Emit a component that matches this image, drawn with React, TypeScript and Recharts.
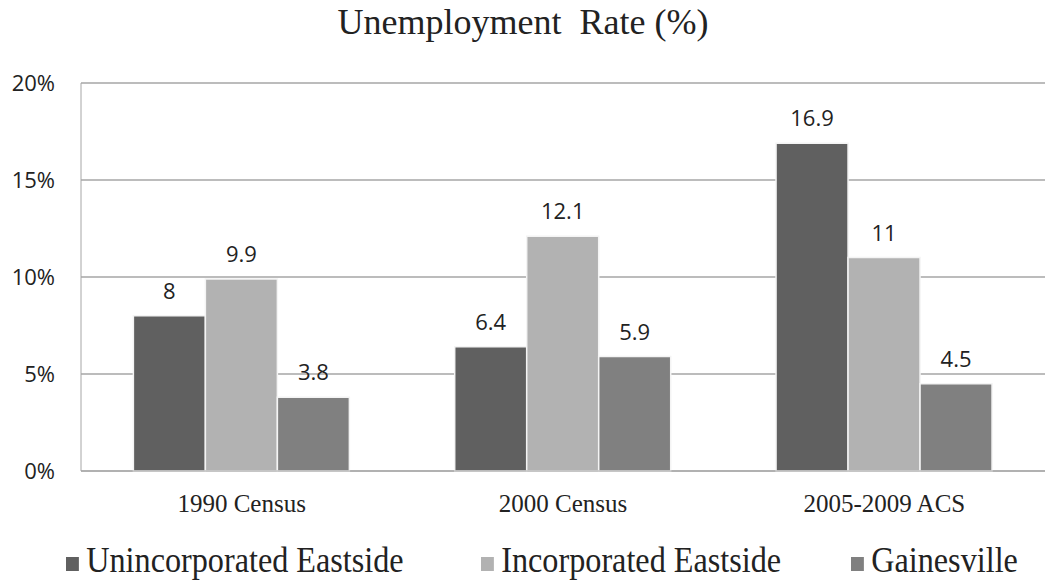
import { Bar, BarChart, CartesianGrid, LabelList, XAxis, YAxis } from 'recharts';

const categories = ['1990 Census', '2000 Census', '2005-2009 ACS'];
const unincorporated = [8, 6.4, 16.9];
const incorporated = [9.9, 12.1, 11];
const gainesville = [3.8, 5.9, 4.5];
const yTicks = [0, 5, 10, 15, 20];

const series = [
  { key: 'unincorporated', name: 'Unincorporated Eastside', color: '#606060' },
  { key: 'incorporated', name: 'Incorporated Eastside', color: '#b2b2b2' },
  { key: 'gainesville', name: 'Gainesville', color: '#808080' },
];

const data = categories.map((c, i) => ({
  category: c,
  unincorporated: unincorporated[i],
  incorporated: incorporated[i],
  gainesville: gainesville[i],
}));

const serif = '"Liberation Serif", "Times New Roman", serif';
const sans = '"Open Sans", "Noto Sans", sans-serif';
const legendLeft = [66, 481, 851];

export default function App() {
  return (
    <div style={{ position: 'relative', width: 1046, height: 584, background: '#fff' }}>
      <style>{`body{margin:0}`}</style>
      <div
        style={{
          position: 'absolute',
          top: 1,
          left: 0,
          width: 1046,
          textAlign: 'center',
          fontFamily: serif,
          fontSize: 36,
          color: '#222',
          whiteSpace: 'pre',
          lineHeight: 'normal',
        }}
      >
        {'Unemployment  Rate (%)'}
      </div>
      <BarChart
        width={1046}
        height={584}
        data={data}
        margin={{ top: 83, right: 1, bottom: 83, left: 0 }}
        barCategoryGap="16.3%"
        barGap={0}
      >
        <CartesianGrid vertical={false} stroke="#a6a6a6" strokeWidth={1.3} />
        <XAxis
          dataKey="category"
          stroke="#a6a6a6"
          tickLine={false}
          tickSize={0}
          tickMargin={23}
          tick={{ fill: '#222', fontFamily: serif, fontSize: 25 }}
        />
        <YAxis
          width={81}
          domain={[0, 20]}
          ticks={yTicks}
          tickFormatter={(v) => `${v}%`}
          stroke="#a6a6a6"
          tickLine={false}
          tickSize={0}
          tickMargin={26}
          tick={{ fill: '#222', fontFamily: sans, fontSize: 22 }}
        />
        {series.map((s) => (
          <Bar
            key={s.key}
            dataKey={s.key}
            name={s.name}
            fill={s.color}
            stroke="#f4f4f4"
            strokeWidth={1.5}
            isAnimationActive={false}
          >
            <LabelList
              dataKey={s.key}
              position="top"
              offset={17}
              style={{ fill: '#222', fontFamily: sans, fontSize: 22 }}
            />
          </Bar>
        ))}
      </BarChart>
      {series.map((s, i) => (
        <div
          key={s.key}
          style={{
            position: 'absolute',
            top: 541,
            left: legendLeft[i],
            display: 'flex',
            alignItems: 'center',
            whiteSpace: 'nowrap',
            fontFamily: serif,
            fontSize: 35,
            color: '#222',
            lineHeight: 'normal',
            transform: 'scaleX(0.92)',
            transformOrigin: '0 0',
          }}
        >
          <span
            style={{
              display: 'inline-block',
              width: 14,
              height: 14,
              background: s.color,
              marginRight: 8,
              marginTop: 6,
            }}
          />
          {s.name}
        </div>
      ))}
    </div>
  );
}
